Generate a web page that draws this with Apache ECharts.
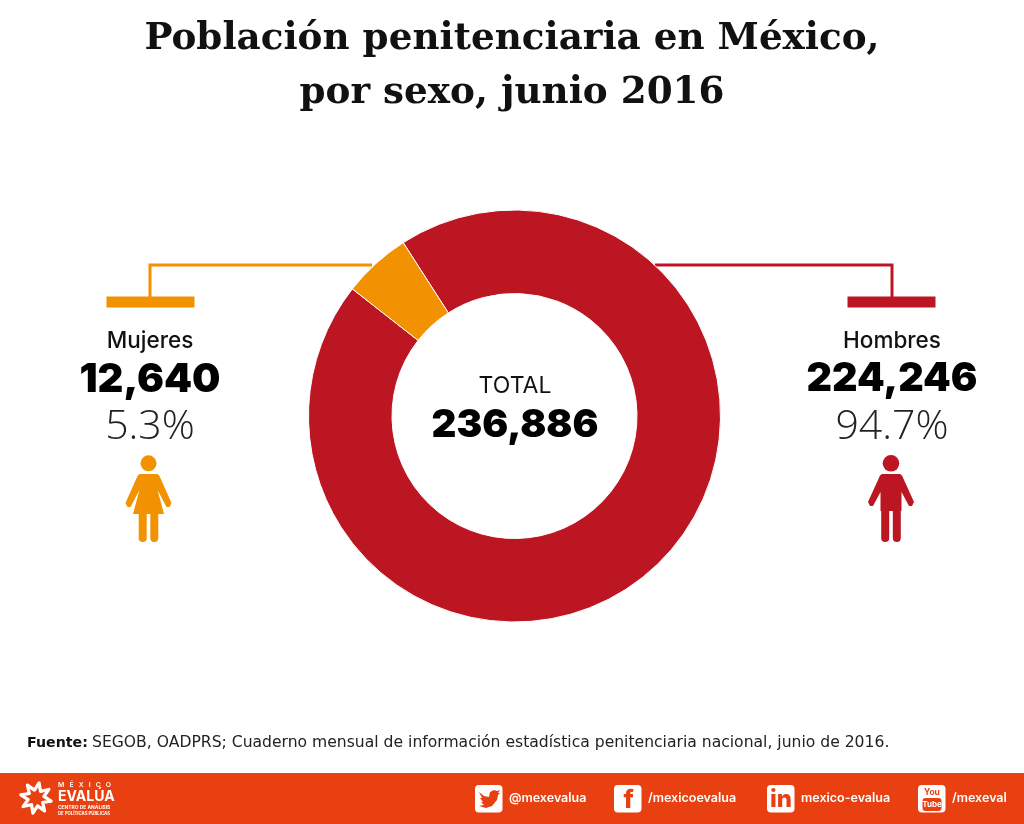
<!DOCTYPE html>
<html><head><meta charset="utf-8">
<style>html,body{margin:0;padding:0;background:#fff}#c{width:1024px;height:824px}</style>
<script src="https://cdn.jsdelivr.net/npm/echarts@6/dist/echarts.min.js"></script>
</head><body><div id="c"></div>
<script>
const categories = ['Hombres', 'Mujeres'];
const values = [224246, 12640];
const percents = ['94.7%', '5.3%'];
const totalValue = 236886;
const sliceColors = ['#BC1622', '#F39200'];
const titleLines = ['Población penitenciaria en México,', 'por sexo, junio 2016'];
const totalLabel = 'TOTAL';
const sourceLead = 'Fuente:';
const sourceText = 'SEGOB, OADPRS; Cuaderno mensual de información estadística penitenciaria nacional, junio de 2016.';
const socialHandles = ['@mexevalua', '/mexicoevalua', 'mexico-evalua', '/mexeval'];

const fmt = v => v.toLocaleString('en-US');
const SANS = '"Inter","Noto Sans",sans-serif';
const LIGHT = '"Open Sans","Noto Sans",sans-serif';
const NOTE = '"DejaVu Sans",sans-serif';
const SERIF = '"DejaVu Serif",serif';
const BAND = '#E84011';

function txt(x, y, s, size, weight, color, family, align) {
  return {type:'text', x, y, silent:true, style:{text:s, x:0, y:0, fontSize:size, fontWeight:weight,
    fontFamily:family||SANS, fill:color||'#000', align:align||'center', verticalAlign:'middle'}};
}
function line(points, color, w) {
  return {type:'polyline', silent:true, shape:{points}, style:{stroke:color, lineWidth:w, fill:null}};
}
function rect(x, y, w, h, color, r) {
  return {type:'rect', silent:true, shape:{x, y, width:w, height:h, r:r||0}, style:{fill:color}};
}
function circle(cx, cy, r, color) {
  return {type:'circle', silent:true, shape:{cx, cy, r}, style:{fill:color}};
}
function poly(points, color) {
  return {type:'polygon', silent:true, shape:{points}, style:{fill:color}};
}
function womanIcon(c, color) {
  return [
    circle(c, 463.3, 8, color),
    poly([[c-9,474],[c+9,474],[c+11,476],[c+23,503],[c+21,507],[c+18,507],[c+9,490],[c+15.5,514],[c-15.5,514],[c-9,490],[c-18,507],[c-21,507],[c-23,503],[c-11,476]], color),
    rect(c-9.8, 508, 8, 34, color, 4), rect(c+1.8, 508, 8, 34, color, 4)
  ];
}
function manIcon(c, color) {
  return [
    circle(c, 463.3, 8.3, color),
    poly([[c-9,474],[c+9,474],[c+11,475.5],[c+23,502],[c+21,506],[c+18,506],[c+10.5,492],[c+10.5,511],[c-10.5,511],[c-10.5,492],[c-18,506],[c-21,506],[c-23,502],[c-11,475.5]], color),
    rect(c-9.8, 505, 8, 37, color, 4), rect(c+1.8, 505, 8, 37, color, 4)
  ];
}
function logo() {
  const pts = [], cx = 36, cy = 798, n = 8;
  for (let i = 0; i < n * 2; i++) {
    const a = Math.PI * i / n - Math.PI / 2 + 0.2, r = i % 2 ? 8 : 15.5;
    pts.push([cx + r * Math.cos(a), cy + r * Math.sin(a)]);
  }
  return [
    {type:'polygon', silent:true, shape:{points:pts}, style:{fill:BAND, stroke:'#fff', lineWidth:3.2, lineJoin:'round'}},
    txt(58, 785, 'M   É   X   I   C   O', 6.8, 600, '#fff', SANS, 'left'),
    txt(58, 797, 'EVALÚA', 14, 700, '#fff', SANS, 'left'),
    txt(58, 808, 'CENTRO DE ANÁLISIS', 4.9, 700, '#fff', SANS, 'left'),
    txt(58, 814, 'DE POLÍTICAS PÚBLICAS', 4.3, 700, '#fff', SANS, 'left')
  ];
}
function socials() {
  const boxes = [475, 614, 767, 918];
  const textX = [509, 648, 801, 952];
  const out = [];
  boxes.forEach((x, i) => {
    out.push(rect(x, 785, 27.5, 27.5, '#fff', 4));
    out.push(txt(textX[i], 798.5, socialHandles[i], 12.5, 600, '#fff', SANS, 'left'));
  });
  out.push(poly([[479,792],[484,796],[489,797],[490,792],[494,790],[497,791],[500,790],[498,793],[500,793],[498,795],[497,800],[492,806],[486,808],[479,806],[484,805],[481,802],[483,802],[480,798],[482,798]], BAND));
  out.push(txt(628.5, 800, 'f', 25, 800, BAND, SANS));
  out.push(txt(781, 799.5, 'in', 24, 800, BAND, SANS));
  out.push(txt(932, 792.5, 'You', 8.5, 700, BAND, SANS));
  out.push(rect(922.5, 798, 19, 13, BAND, 3));
  out.push(txt(932, 804.5, 'Tube', 8, 700, '#fff', SANS));
  return out;
}

const graphics = [
  txt(512, 39, titleLines[0], 37.3, 700, '#111', SERIF),
  txt(512, 93, titleLines[1], 37.3, 700, '#111', SERIF),

  line([[372,265],[150,265],[150,298]], sliceColors[1], 3),
  rect(106.5, 296.5, 88, 11, sliceColors[1]),
  line([[655,265],[892,265],[892,298]], sliceColors[0], 3),
  rect(847.5, 296.5, 88, 11, sliceColors[0]),

  txt(150, 341, categories[1], 22.5, 500, '#111'),
  txt(150, 379.5, fmt(values[1]), 40, 900, '#000'),
  txt(150, 427, percents[1], 41, 300, '#222', LIGHT),
  ...womanIcon(148.5, sliceColors[1]),

  txt(892, 341, categories[0], 22.5, 500, '#111'),
  txt(892, 379.5, fmt(values[0]), 39.5, 900, '#000'),
  txt(892, 427, percents[0], 41, 300, '#222', LIGHT),
  ...manIcon(891, sliceColors[0]),

  txt(515, 386, totalLabel, 23, 400, '#111'),
  txt(515, 425.5, fmt(totalValue), 38.5, 900, '#000'),

  rect(0, 773, 1024, 51, BAND),
  ...logo(),
  ...socials(),
  txt(27, 743, sourceLead, 14.2, 700, '#111', NOTE, 'left'),
  txt(92, 743, sourceText, 15.6, 400, '#222', NOTE, 'left')
];

const chart = echarts.init(document.getElementById('c'), null, {renderer:'canvas'});
chart.setOption({
  animation:false,
  backgroundColor:'#fff',
  graphic:{elements:graphics},
  series:[{
    type:'pie',
    center:[514.5,416],
    radius:[122.5,206],
    startAngle:122.7,
    clockwise:true,
    silent:true,
    label:{show:false},
    labelLine:{show:false},
    itemStyle:{borderColor:'#fff', borderWidth:1},
    data:categories.map((name,i)=>({name, value:values[i], itemStyle:{color:sliceColors[i]}}))
  }]
});
</script></body></html>
